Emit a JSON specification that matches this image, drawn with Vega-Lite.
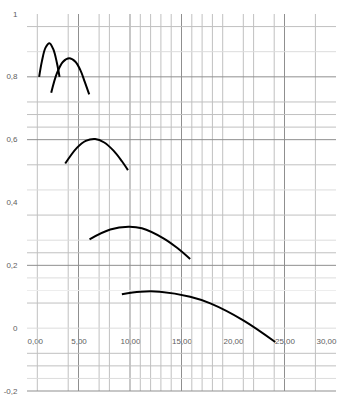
{
  "$schema": "https://vega.github.io/schema/vega-lite/v6.json",
  "autosize": "none",
  "width": 309,
  "height": 377,
  "padding": {"left": 27, "top": 14, "right": 17, "bottom": 27},
  "background": "white",
  "config": {
    "view": {"stroke": null},
    "axis": {"labelFont": "Liberation Sans", "labelFontSize": 8, "labelColor": "#606060"}
  },
  "datasets": {
    "vgrid": [
      {"gx": 1, "kind": "normal"}, {"gx": 4, "kind": "normal"}, {"gx": 5, "kind": "dark"},
      {"gx": 7, "kind": "normal"}, {"gx": 8, "kind": "normal"}, {"gx": 10, "kind": "dark"},
      {"gx": 11, "kind": "normal"}, {"gx": 12, "kind": "normal"}, {"gx": 13, "kind": "normal"},
      {"gx": 14, "kind": "normal"}, {"gx": 15, "kind": "dark"}, {"gx": 16, "kind": "normal"},
      {"gx": 17, "kind": "normal"}, {"gx": 18, "kind": "normal"}, {"gx": 19, "kind": "normal"},
      {"gx": 21, "kind": "normal"}, {"gx": 22, "kind": "normal"}, {"gx": 24, "kind": "normal"},
      {"gx": 25, "kind": "dark"}, {"gx": 28, "kind": "normal"}
    ],
    "hgrid": [
      {"gy": 0.96, "kind": "normal"}, {"gy": 0.88, "kind": "light"}, {"gy": 0.8, "kind": "dark"},
      {"gy": 0.72, "kind": "normal"}, {"gy": 0.68, "kind": "normal"}, {"gy": 0.64, "kind": "normal"},
      {"gy": 0.6, "kind": "dark"}, {"gy": 0.52, "kind": "normal"}, {"gy": 0.44, "kind": "light"},
      {"gy": 0.36, "kind": "normal"}, {"gy": 0.28, "kind": "light"}, {"gy": 0.24, "kind": "normal"},
      {"gy": 0.2, "kind": "dark"}, {"gy": 0.16, "kind": "light"}, {"gy": 0.12, "kind": "faint"},
      {"gy": 0.08, "kind": "normal"}, {"gy": 0, "kind": "light"}, {"gy": -0.08, "kind": "normal"},
      {"gy": -0.12, "kind": "normal"}, {"gy": -0.16, "kind": "light"}, {"gy": -0.2, "kind": "dark"}
    ],
    "curves": [
      {"s": 1, "x": 1.18, "y": 0.8}, {"s": 1, "x": 1.45, "y": 0.85}, {"s": 1, "x": 1.8, "y": 0.893},
      {"s": 1, "x": 2.18, "y": 0.907}, {"s": 1, "x": 2.55, "y": 0.888}, {"s": 1, "x": 2.9, "y": 0.845},
      {"s": 1, "x": 3.16, "y": 0.8},
      {"s": 2, "x": 2.35, "y": 0.749}, {"s": 2, "x": 2.9, "y": 0.811}, {"s": 2, "x": 3.5, "y": 0.848},
      {"s": 2, "x": 4.1, "y": 0.859}, {"s": 2, "x": 4.7, "y": 0.848}, {"s": 2, "x": 5.17, "y": 0.822},
      {"s": 2, "x": 5.6, "y": 0.785}, {"s": 2, "x": 6.04, "y": 0.744},
      {"s": 3, "x": 3.71, "y": 0.524}, {"s": 3, "x": 4.84, "y": 0.574}, {"s": 3, "x": 5.7, "y": 0.596},
      {"s": 3, "x": 6.62, "y": 0.602}, {"s": 3, "x": 7.5, "y": 0.591}, {"s": 3, "x": 8.4, "y": 0.565},
      {"s": 3, "x": 9.2, "y": 0.532}, {"s": 3, "x": 9.8, "y": 0.503},
      {"s": 4, "x": 6.07, "y": 0.283}, {"s": 4, "x": 8.08, "y": 0.314}, {"s": 4, "x": 9.85, "y": 0.323},
      {"s": 4, "x": 11.15, "y": 0.318}, {"s": 4, "x": 13.25, "y": 0.286}, {"s": 4, "x": 14.6, "y": 0.255},
      {"s": 4, "x": 15.84, "y": 0.22},
      {"s": 5, "x": 9.21, "y": 0.108}, {"s": 5, "x": 11, "y": 0.116}, {"s": 5, "x": 12.9, "y": 0.116},
      {"s": 5, "x": 15.84, "y": 0.1}, {"s": 5, "x": 17.8, "y": 0.079}, {"s": 5, "x": 21, "y": 0.025},
      {"s": 5, "x": 24.1, "y": -0.044}
    ]
  },
  "layer": [
    {
      "data": {"name": "vgrid"},
      "mark": {"type": "rule", "strokeWidth": 1},
      "encoding": {
        "x": {"field": "gx", "type": "quantitative", "scale": {"domain": [0, 30], "nice": false, "zero": false},
          "axis": {"title": null, "values": [0, 5, 10, 15, 20, 25, 30], "grid": false, "domain": false, "ticks": false,
            "offset": -62.8, "labelPadding": 9,
            "labelExpr": "replace(format(datum.value, '.2f'), '.', ',')"}},
        "y": {"datum": -0.2, "type": "quantitative", "scale": {"domain": [-0.2, 1], "nice": false, "zero": false},
          "axis": {"title": null, "values": [-0.2, 0, 0.2, 0.4, 0.6, 0.8, 1], "grid": false, "domain": false, "ticks": false,
            "labelPadding": 10,
            "labelExpr": "replace(toString(datum.value), '.', ',')"}},
        "y2": {"datum": 1},
        "color": {"field": "kind", "type": "nominal", "legend": null,
          "scale": {"domain": ["dark", "normal", "light", "faint"], "range": ["#8f8f8f", "#c0c0c0", "#dcdcdc", "#ededed"]}}
      }
    },
    {
      "data": {"name": "hgrid"},
      "mark": {"type": "rule", "strokeWidth": 1},
      "encoding": {
        "y": {"field": "gy", "type": "quantitative",
          "axis": {"title": null, "values": [-0.2, 0, 0.2, 0.4, 0.6, 0.8, 1], "grid": false, "domain": false, "ticks": false,
            "labelPadding": 10,
            "labelExpr": "replace(toString(datum.value), '.', ',')"}},
        "x": {"datum": 0, "type": "quantitative",
          "axis": {"title": null, "values": [0, 5, 10, 15, 20, 25, 30], "grid": false, "domain": false, "ticks": false,
            "offset": -62.8, "labelPadding": 9,
            "labelExpr": "replace(format(datum.value, '.2f'), '.', ',')"}},
        "x2": {"datum": 30},
        "color": {"field": "kind", "type": "nominal", "legend": null}
      }
    },
    {
      "data": {"name": "curves"},
      "mark": {"type": "line", "interpolate": "catmull-rom", "color": "#000000", "strokeWidth": 2},
      "encoding": {
        "x": {"field": "x", "type": "quantitative",
          "axis": {"title": null, "values": [0, 5, 10, 15, 20, 25, 30], "grid": false, "domain": false, "ticks": false,
            "offset": -62.8, "labelPadding": 9,
            "labelExpr": "replace(format(datum.value, '.2f'), '.', ',')"}},
        "y": {"field": "y", "type": "quantitative",
          "axis": {"title": null, "values": [-0.2, 0, 0.2, 0.4, 0.6, 0.8, 1], "grid": false, "domain": false, "ticks": false,
            "labelPadding": 10,
            "labelExpr": "replace(toString(datum.value), '.', ',')"}},
        "detail": {"field": "s", "type": "nominal"}
      }
    }
  ]
}
